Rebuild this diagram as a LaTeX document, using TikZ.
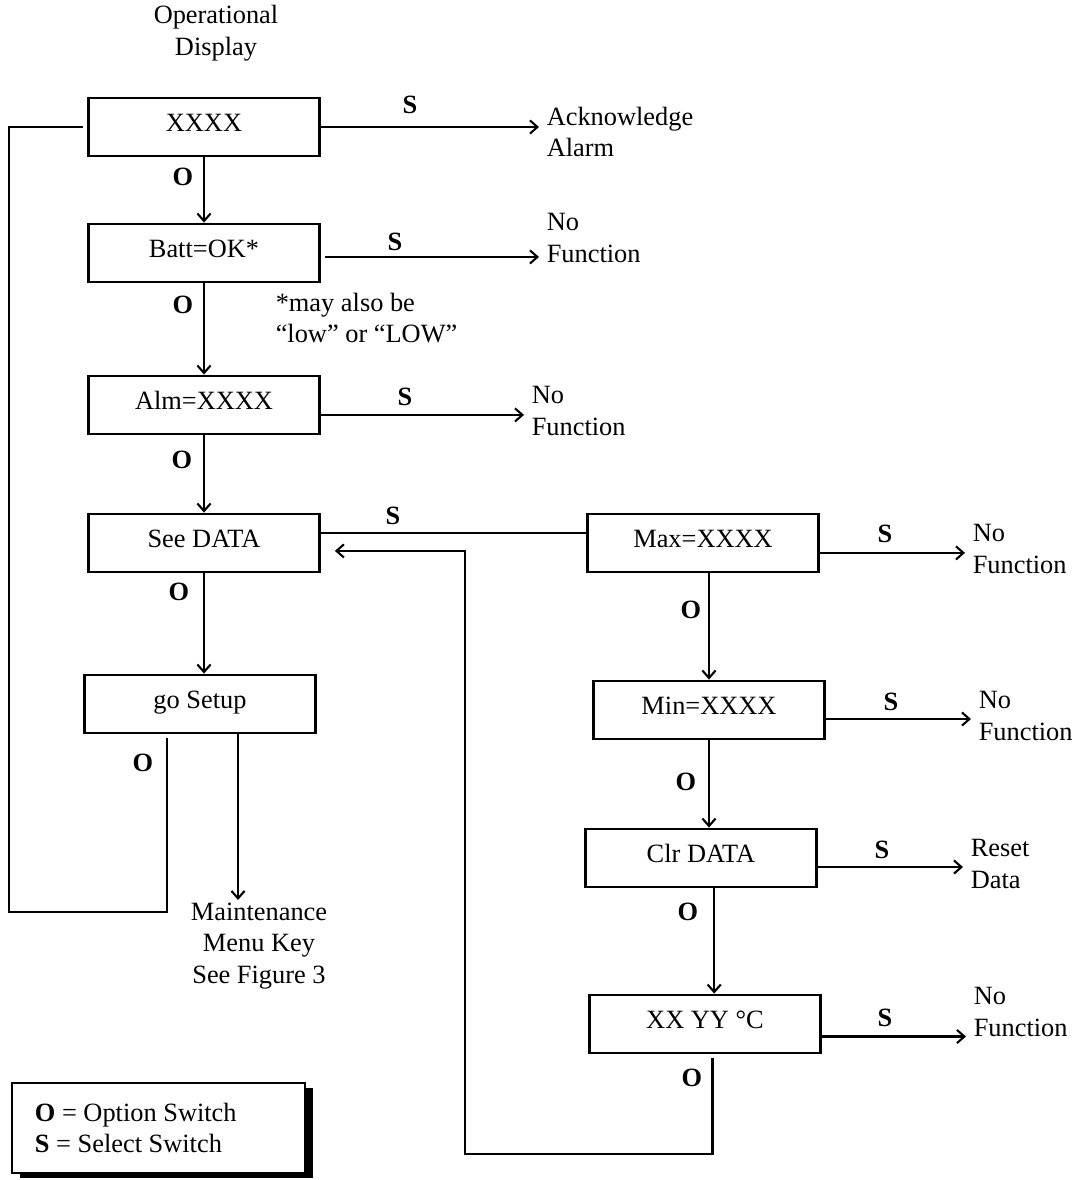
\documentclass[tikz,border=0pt]{standalone}
\usepackage{fontspec}
\setmainfont{Liberation Serif}
\usetikzlibrary{arrows.meta,shadows}

\begin{document}
\begin{tikzpicture}[x=0.455pt,y=-0.455pt,
  font=\fontsize{12pt}{14.5pt}\selectfont,
  menubox/.style={draw,line width=1.3pt,minimum width=105pt,minimum height=26.4pt,
    inner sep=0pt,text height=10.6pt,text depth=6.6pt},
  keylbl/.style={execute at begin node=\bfseries},
  note/.style={align=left,anchor=west},
  conn/.style={line width=0.95pt},
  keybox/.style={draw,line width=0.8pt,fill=white,minimum width=133.3pt,minimum height=41pt,
    drop shadow={shadow xshift=3.8pt,shadow yshift=-2.3pt,fill=black,opacity=1}},
  >={Straight Barb[length=3.4pt,width=6pt]}]
\useasboundingbox (0,0) rectangle (1078,1180);

\node[align=center] (opdisp) at (216,33) {Operational\\Display};

% menu boxes
\node[menubox] (disp) at (204,127) {XXXX};
\node[menubox] (batt) at (204,253) {Batt=OK*};
\node[menubox] (alm) at (204,405) {Alm=XXXX};
\node[menubox] (see) at (204,543) {See DATA};
\node[menubox] (setup) at (200,704) {go Setup};

\node[menubox] (max) at (703,543) {Max=XXXX};
\node[menubox] (min) at (709,710) {Min=XXXX};
\node[menubox] (clr) at (701,858) {Clr DATA};
\node[menubox] (temp) at (705,1024) {XX YY °C};

% results
\node[note] (ack) at (539,132) {Acknowledge\\Alarm};
\node[note] (nf1) at (539,238) {No\\Function};
\node[note] (nf2) at (524,411) {No\\Function};
\node[note] (nf3) at (965,549) {No\\Function};
\node[note] (nf4) at (971,716) {No\\Function};
\node[note] (reset) at (963,864) {Reset\\Data};
\node[note] (nf5) at (966,1012) {No\\Function};
\node[note] (battnote) at (268,318) {*may also be\\“low” or “LOW”};
\node[align=center,inner sep=1pt] (maint) at (259,946) {Maintenance\\Menu Key\\See Figure 3};

% select switch
\draw[conn,->] (disp.east) -- (disp.east -| ack.west);
\draw[conn,->] ([xshift=1.8pt,yshift=-1.8pt]batt.east) -- ([yshift=-1.8pt]batt.east -| nf1.west);
\draw[conn,->] ([yshift=-4.5pt]alm.east) -- ([yshift=-4.5pt]alm.east -| nf2.west);
\draw[conn] ([yshift=4.5pt]see.east) -- ([yshift=4.5pt]see.east -| max.west);
\draw[conn,->] ([yshift=-4.5pt]max.east) -- ([yshift=-4.5pt]max.east -| nf3.west);
\draw[conn,->] ([yshift=-4.1pt]min.east) -- ([yshift=-4.1pt]min.east -| nf4.west);
\draw[conn,->] ([yshift=-4.1pt]clr.east) -- ([yshift=-4.1pt]clr.east -| reset.west);
\draw[conn,->] ([yshift=-5.7pt]temp.east) -- ([yshift=-5.7pt]temp.east -| nf5.west);

% option switch
\draw[conn,->] (disp) -- (batt);
\draw[conn,->] (batt) -- (alm);
\draw[conn,->] (alm) -- (see);
\draw[conn,->] (see.south) -- (see.south |- setup.north);
\draw[conn,->] (max.south -| min) -- (min.north);
\draw[conn,->] (min.south) -- (min.south |- clr.north);
\draw[conn,->] ([xshift=6pt]clr.south) -- ([xshift=6pt]clr.south |- temp.north);
\draw[conn,->] ([xshift=17.3pt]setup.south) -- ([xshift=17.3pt]setup.south |- maint.north);

% return loops
\coordinate (loopL) at (9,912);
\coordinate (dispin) at ([xshift=-1.8pt]disp.west);
\draw[conn] ([xshift=-15pt,yshift=-1.8pt]setup.south) |- (loopL) |- (dispin);

\coordinate (loopR) at (465,1154);
\coordinate (seein) at ([xshift=6.4pt,yshift=-3.6pt]see.east);
\draw[conn,->] ([xshift=3.4pt,yshift=-1.4pt]temp.south) |- (loopR) |- (seein);

% switch labels
\node[keylbl] (o1) at (183,177) {O};
\node[keylbl] (o2) at (183,305) {O};
\node[keylbl] (o3) at (182,460) {O};
\node[keylbl] (o4) at (179,592) {O};
\node[keylbl] (o5) at (143,763) {O};
\node[keylbl] (o6) at (691,610) {O};
\node[keylbl] (o7) at (686,782) {O};
\node[keylbl] (o8) at (688,912) {O};
\node[keylbl] (o9) at (692,1078) {O};

\node[keylbl] (s1) at (410,105) {S};
\node[keylbl] (s2) at (395,242) {S};
\node[keylbl] (s3) at (405,397) {S};
\node[keylbl] (s4) at (393,516) {S};
\node[keylbl] (s5) at (885,534) {S};
\node[keylbl] (s6) at (891,702) {S};
\node[keylbl] (s7) at (882,850) {S};
\node[keylbl] (s8) at (885,1018) {S};

% legend
\node[keybox] (key) at (158.5,1128) {};
\node[note] (keytext) at ([xshift=7.3pt]key.west) {\textbf{O} = Option Switch\\\textbf{S} = Select Switch};
\end{tikzpicture}
\end{document}
